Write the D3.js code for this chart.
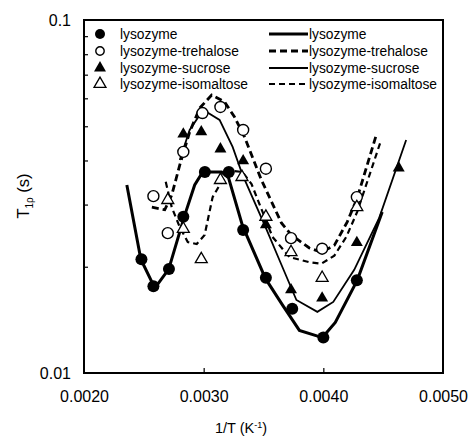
<!DOCTYPE html>
<html>
<head>
<meta charset="utf-8">
<script src="https://cdn.jsdelivr.net/npm/d3@7"></script>
<style>
  body { margin: 0; background: #fff; }
  text { font-family: Arial, "Liberation Sans", sans-serif; fill: #000; }
</style>
</head>
<body>
<div id="chart-area"></div>
<script>
// measured points, 1/T (K^-1) and T1rho (s)
const lysX = [0.00248, 0.00258, 0.00271, 0.00283, 0.00301, 0.00321, 0.00333, 0.00352, 0.00374, 0.00400, 0.00428]
const lysY = [0.0210, 0.0176, 0.0197, 0.0277, 0.0371, 0.0371, 0.0254, 0.0186, 0.0152, 0.0126, 0.0183]

const treX = [0.00258, 0.00270, 0.00283, 0.00299, 0.00314, 0.00333, 0.00352, 0.00373, 0.00399, 0.00428]
const treY = [0.0317, 0.0249, 0.0423, 0.0545, 0.0567, 0.0488, 0.0379, 0.0241, 0.0225, 0.0315]

const sucX = [0.00283, 0.00298, 0.00314, 0.00333, 0.00352, 0.00373, 0.00399, 0.00428, 0.00463]
const sucY = [0.0475, 0.0482, 0.0431, 0.0399, 0.0263, 0.0172, 0.0163, 0.0234, 0.0381]

const isoX = [0.00270, 0.00283, 0.00298, 0.00314, 0.00332, 0.00352, 0.00373, 0.00399, 0.00428]
const isoY = [0.0309, 0.0256, 0.0210, 0.0352, 0.0359, 0.0277, 0.0220, 0.0186, 0.0295]

// fitted curves
const lysFitX = [0.002358, 0.002475, 0.002592, 0.002708, 0.002842, 0.002925, 0.002992, 0.003150, 0.003208, 0.003325, 0.003517, 0.003658, 0.003800, 0.003992, 0.004100, 0.004283, 0.004492]
const lysFitY = [0.0341, 0.0210, 0.0174, 0.0197, 0.0280, 0.0341, 0.0371, 0.0371, 0.0357, 0.0261, 0.0185, 0.0156, 0.0132, 0.0126, 0.0139, 0.0183, 0.0286]

const sucFitX = [0.002800, 0.002883, 0.002967, 0.003025, 0.003133, 0.003242, 0.003325, 0.003517, 0.003633, 0.003775, 0.003950, 0.004083, 0.004258, 0.004467, 0.004692]
const sucFitY = [0.0401, 0.0488, 0.0538, 0.0549, 0.0521, 0.0437, 0.0364, 0.0259, 0.0209, 0.0161, 0.0149, 0.0159, 0.0196, 0.0275, 0.0457]

const treFitX = [0.002567, 0.002675, 0.002733, 0.002800, 0.002883, 0.002967, 0.003067, 0.003175, 0.003258, 0.003342, 0.003483, 0.003650, 0.003733, 0.003883, 0.003983, 0.004092, 0.004200, 0.004283, 0.004442]
const treFitY = [0.0295, 0.0290, 0.0319, 0.0388, 0.0482, 0.0563, 0.0613, 0.0586, 0.0531, 0.0466, 0.0352, 0.0266, 0.0246, 0.0226, 0.0220, 0.0230, 0.0268, 0.0313, 0.0472]

const isoFitX = [0.002683, 0.002733, 0.002800, 0.002867, 0.002942, 0.003008, 0.003075, 0.003158, 0.003233, 0.003325, 0.003400, 0.003575, 0.003717, 0.003883, 0.003983, 0.004092, 0.004192, 0.004283, 0.004483]
const isoFitY = [0.0348, 0.0295, 0.0259, 0.0235, 0.0232, 0.0246, 0.0315, 0.0352, 0.0374, 0.0371, 0.0343, 0.0243, 0.0213, 0.0206, 0.0204, 0.0215, 0.0243, 0.0286, 0.0457]

const xTicks = [0.0020, 0.0030, 0.0040, 0.0050]
const yTicks = [0.01, 0.1]
const yMinor = [0.02, 0.03, 0.04, 0.05, 0.06, 0.07, 0.08, 0.09]

const symNames = ['lysozyme', 'lysozyme-trehalose', 'lysozyme-sucrose', 'lysozyme-isomaltose']
const lineNames = ['lysozyme', 'lysozyme-trehalose', 'lysozyme-sucrose', 'lysozyme-isomaltose']

const MARGIN = { LEFT: 84, RIGHT: 26, TOP: 20, BOTTOM: 64 }
const WIDTH = 469 - MARGIN.LEFT - MARGIN.RIGHT
const HEIGHT = 437 - MARGIN.TOP - MARGIN.BOTTOM

const svg = d3.select('#chart-area').append('svg')
  .attr('width', 469)
  .attr('height', 437)

const g = svg.append('g')
  .attr('transform', `translate(${MARGIN.LEFT}, ${MARGIN.TOP})`)

// SCALES
const x = d3.scaleLinear().domain([0.002, 0.005]).range([0, WIDTH])
const y = d3.scaleLog().domain([0.01, 0.1]).range([HEIGHT, 0])

// AXES
const yAxis = g.append('g')
  .call(d3.axisLeft(y).tickValues(yTicks).tickSize(0).tickPadding(13).tickFormat(d3.format('')))
yAxis.select('.domain').remove()
yAxis.selectAll('text').attr('font-size', 16)

g.append('g')
  .call(d3.axisRight(y).tickValues(yMinor).tickSize(4).tickFormat(''))
  .call(a => a.select('.domain').remove())
  .selectAll('line').attr('stroke-width', 1.2)

const xAxis = g.append('g')
  .attr('transform', `translate(0, ${HEIGHT})`)
  .call(d3.axisBottom(x).tickValues(xTicks).tickSize(0).tickPadding(18).tickFormat(d3.format('.4f')))
xAxis.select('.domain').remove()
xAxis.selectAll('text').attr('font-size', 16)

g.append('g')
  .attr('transform', `translate(0, ${HEIGHT})`)
  .call(d3.axisTop(x).tickValues([0.003, 0.004]).tickSize(5).tickFormat(''))
  .call(a => a.select('.domain').remove())
  .selectAll('line').attr('stroke-width', 1.2)

g.append('rect')
  .attr('width', WIDTH).attr('height', HEIGHT)
  .attr('fill', 'none').attr('stroke', '#000').attr('stroke-width', 2)

// axis titles
const xt = svg.append('text')
  .attr('x', 241).attr('y', 433)
  .attr('text-anchor', 'middle').attr('font-size', 14.5)
xt.append('tspan').text('1/T (K')
xt.append('tspan').attr('font-size', 9).attr('dy', -5).text('-1')
xt.append('tspan').attr('dy', 5).text(')')

const yt = svg.append('text')
  .attr('transform', 'translate(29, 196) rotate(-90)')
  .attr('text-anchor', 'middle').attr('font-size', 16.5)
yt.append('tspan').text('T')
yt.append('tspan').attr('font-size', 10).attr('dy', 4).text('1ρ')
yt.append('tspan').attr('dy', -4).text(' (s)')

// CURVES
const line = d3.line().x(d => x(d[0])).y(d => y(d[1]))
const curves = [
  { xs: lysFitX, ys: lysFitY, w: 3, dash: null },
  { xs: treFitX, ys: treFitY, w: 2.8, dash: '7,4' },
  { xs: sucFitX, ys: sucFitY, w: 1.8, dash: null },
  { xs: isoFitX, ys: isoFitY, w: 2.2, dash: '6,4' }
]
curves.forEach(c => {
  g.append('path')
    .datum(c.xs.map((v, i) => [v, c.ys[i]]))
    .attr('d', line)
    .attr('fill', 'none')
    .attr('stroke', '#000')
    .attr('stroke-width', c.w)
    .attr('stroke-dasharray', c.dash)
})

// POINTS
const tri = d3.symbol().type(d3.symbolTriangle).size(62)
const drawSym = (sel, kind) => {
  if (kind === 0) sel.append('circle').attr('r', 6).attr('fill', '#000')
  if (kind === 1) sel.append('circle').attr('r', 5.5).attr('fill', '#fff').attr('stroke', '#000').attr('stroke-width', 1.4)
  if (kind === 2) sel.append('path').attr('d', tri).attr('fill', '#000')
  if (kind === 3) sel.append('path').attr('d', tri).attr('fill', '#fff').attr('stroke', '#000').attr('stroke-width', 1.3)
}
const series = [[lysX, lysY], [treX, treY], [sucX, sucY], [isoX, isoY]]
series.forEach((s, k) => {
  s[0].forEach((v, i) => {
    const p = g.append('g').attr('transform', `translate(${x(v)}, ${y(s[1][i])})`)
    drawSym(p, k)
  })
})

// LEGEND
const rowY = [34, 51, 68, 84]
symNames.forEach((n, i) => {
  const p = svg.append('g').attr('transform', `translate(100, ${rowY[i]})`)
  drawSym(p, i)
  p.select('circle').attr('r', i === 0 ? 5 : 4.2)
  svg.append('text').attr('x', 120).attr('y', rowY[i]).attr('dy', '0.35em')
    .attr('font-size', 13.8).text(n)
})
lineNames.forEach((n, i) => {
  const c = curves[i]
  svg.append('line')
    .attr('x1', 269).attr('x2', 308).attr('y1', rowY[i]).attr('y2', rowY[i])
    .attr('stroke', '#000').attr('stroke-width', c.w)
    .attr('stroke-dasharray', c.dash)
  svg.append('text').attr('x', 309).attr('y', rowY[i]).attr('dy', '0.35em')
    .attr('font-size', 13.8).text(n)
})
</script>
</body>
</html>
